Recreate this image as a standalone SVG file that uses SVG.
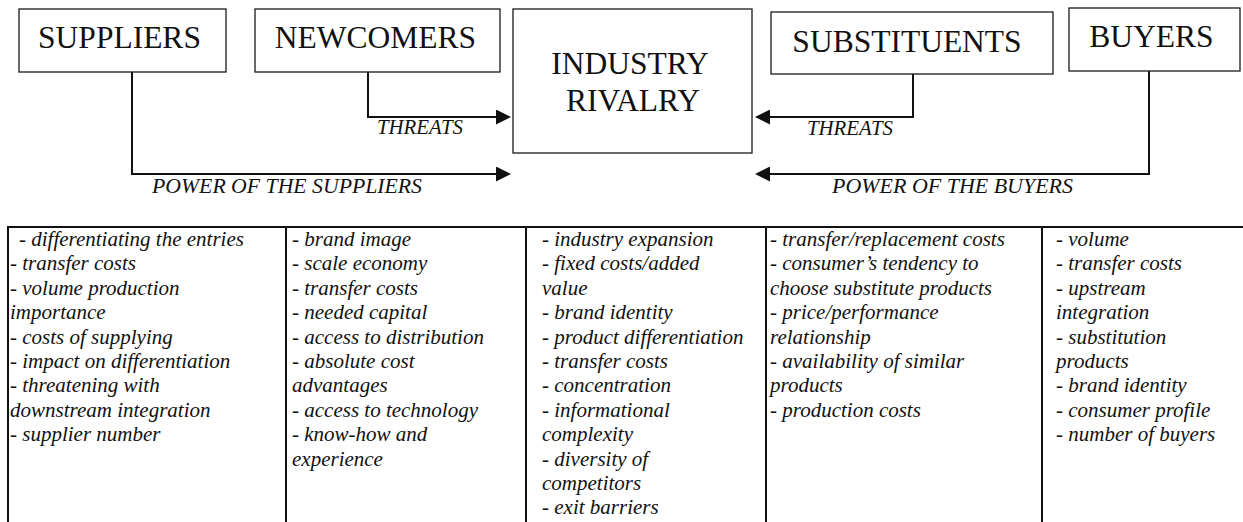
<svg xmlns="http://www.w3.org/2000/svg" width="1243" height="522" viewBox="0 0 1243 522">
<style>
.box{fill:#fff;stroke:#1a1a1a;stroke-width:1.3}
.title{font-family:'Liberation Serif',Tinos,'Times New Roman',Times,'DejaVu Serif',serif;font-size:31.5px;fill:#111;text-anchor:middle}
.conn{fill:none;stroke:#111;stroke-width:2}
.lbl{font-family:'Liberation Serif',Tinos,'Times New Roman',Times,'DejaVu Serif',serif;font-style:italic;font-size:20px;fill:#111}
.grid{stroke:#111;stroke-width:2;fill:none}
.cell{font-family:'Liberation Serif',Tinos,'Times New Roman',Times,'DejaVu Serif',serif;font-style:italic;font-size:21px;fill:#111}
</style>
<defs>
<marker id="ah" viewBox="0 0 15 15" refX="7" refY="7.5" markerWidth="15" markerHeight="15" markerUnits="userSpaceOnUse" orient="auto">
<path d="M0,0 L15,7.5 L0,15 z" fill="#111"/>
</marker>
</defs>
<rect width="1243" height="522" fill="#fff"/>

<g id="suppliers">
<rect class="box" x="19" y="9" width="207" height="63"/>
<text class="title" x="119.5" y="48">SUPPLIERS</text>
</g>
<g id="newcomers">
<rect class="box" x="255" y="9" width="245" height="63"/>
<text class="title" x="375.5" y="48">NEWCOMERS</text>
</g>
<g id="industry-rivalry">
<rect class="box" x="513" y="9" width="239" height="144"/>
<text class="title" x="630" y="74">INDUSTRY</text>
<text class="title" x="633" y="111">RIVALRY</text>
</g>
<g id="substituents">
<rect class="box" x="771" y="12" width="282" height="62"/>
<text class="title" x="907" y="52">SUBSTITUENTS</text>
</g>
<g id="buyers">
<rect class="box" x="1069" y="8" width="171" height="63"/>
<text class="title" x="1151.5" y="47">BUYERS</text>
</g>

<g id="connectors">
<path class="conn" d="M368,72 V117 H503" marker-end="url(#ah)"/>
<path class="conn" d="M132,72 V174 H503" marker-end="url(#ah)"/>
<path class="conn" d="M913,74 V117 H763" marker-end="url(#ah)"/>
<path class="conn" d="M1149,71 V174 H763" marker-end="url(#ah)"/>
<text class="lbl" x="377" y="134" textLength="86" lengthAdjust="spacingAndGlyphs">THREATS</text>
<text class="lbl" x="807" y="135" textLength="86" lengthAdjust="spacingAndGlyphs">THREATS</text>
<text class="lbl" x="152" y="193" textLength="270" lengthAdjust="spacingAndGlyphs">POWER OF THE SUPPLIERS</text>
<text class="lbl" x="832" y="193" textLength="241" lengthAdjust="spacingAndGlyphs">POWER OF THE BUYERS</text>
</g>

<g id="factors-table">
<path class="grid" d="M8,522 V227 H1243 M286,227 V522 M526,227 V522 M766,227 V522 M1042,227 V522"/>
<text class="cell" y="246">
<tspan x="19">- differentiating the entries</tspan>
<tspan x="10" dy="24.4">- transfer costs</tspan>
<tspan x="10" dy="24.4">- volume production</tspan>
<tspan x="10" dy="24.4">importance</tspan>
<tspan x="10" dy="24.4">- costs of supplying</tspan>
<tspan x="10" dy="24.4">- impact on differentiation</tspan>
<tspan x="10" dy="24.4">- threatening with</tspan>
<tspan x="10" dy="24.4">downstream integration</tspan>
<tspan x="10" dy="24.4">- supplier number</tspan>
</text>
<text class="cell" y="246">
<tspan x="292">- brand image</tspan>
<tspan x="292" dy="24.4">- scale economy</tspan>
<tspan x="292" dy="24.4">- transfer costs</tspan>
<tspan x="292" dy="24.4">- needed capital</tspan>
<tspan x="292" dy="24.4">- access to distribution</tspan>
<tspan x="292" dy="24.4">- absolute cost</tspan>
<tspan x="292" dy="24.4">advantages</tspan>
<tspan x="292" dy="24.4">- access to technology</tspan>
<tspan x="292" dy="24.4">- know-how and</tspan>
<tspan x="292" dy="24.4">experience</tspan>
</text>
<text class="cell" y="246">
<tspan x="542">- industry expansion</tspan>
<tspan x="542" dy="24.4">- fixed costs/added</tspan>
<tspan x="542" dy="24.4">value</tspan>
<tspan x="542" dy="24.4">- brand identity</tspan>
<tspan x="542" dy="24.4">- product differentiation</tspan>
<tspan x="542" dy="24.4">- transfer costs</tspan>
<tspan x="542" dy="24.4">- concentration</tspan>
<tspan x="542" dy="24.4">- informational</tspan>
<tspan x="542" dy="24.4">complexity</tspan>
<tspan x="542" dy="24.4">- diversity of</tspan>
<tspan x="542" dy="24.4">competitors</tspan>
<tspan x="542" dy="24.4">- exit barriers</tspan>
</text>
<text class="cell" y="246">
<tspan x="770">- transfer/replacement costs</tspan>
<tspan x="770" dy="24.4">- consumer’s tendency to</tspan>
<tspan x="770" dy="24.4">choose substitute products</tspan>
<tspan x="770" dy="24.4">- price/performance</tspan>
<tspan x="770" dy="24.4">relationship</tspan>
<tspan x="770" dy="24.4">- availability of similar</tspan>
<tspan x="770" dy="24.4">products</tspan>
<tspan x="770" dy="24.4">- production costs</tspan>
</text>
<text class="cell" y="246">
<tspan x="1056">- volume</tspan>
<tspan x="1056" dy="24.4">- transfer costs</tspan>
<tspan x="1056" dy="24.4">- upstream</tspan>
<tspan x="1056" dy="24.4">integration</tspan>
<tspan x="1056" dy="24.4">- substitution</tspan>
<tspan x="1056" dy="24.4">products</tspan>
<tspan x="1056" dy="24.4">- brand identity</tspan>
<tspan x="1056" dy="24.4">- consumer profile</tspan>
<tspan x="1056" dy="24.4">- number of buyers</tspan>
</text>
</g>
</svg>
